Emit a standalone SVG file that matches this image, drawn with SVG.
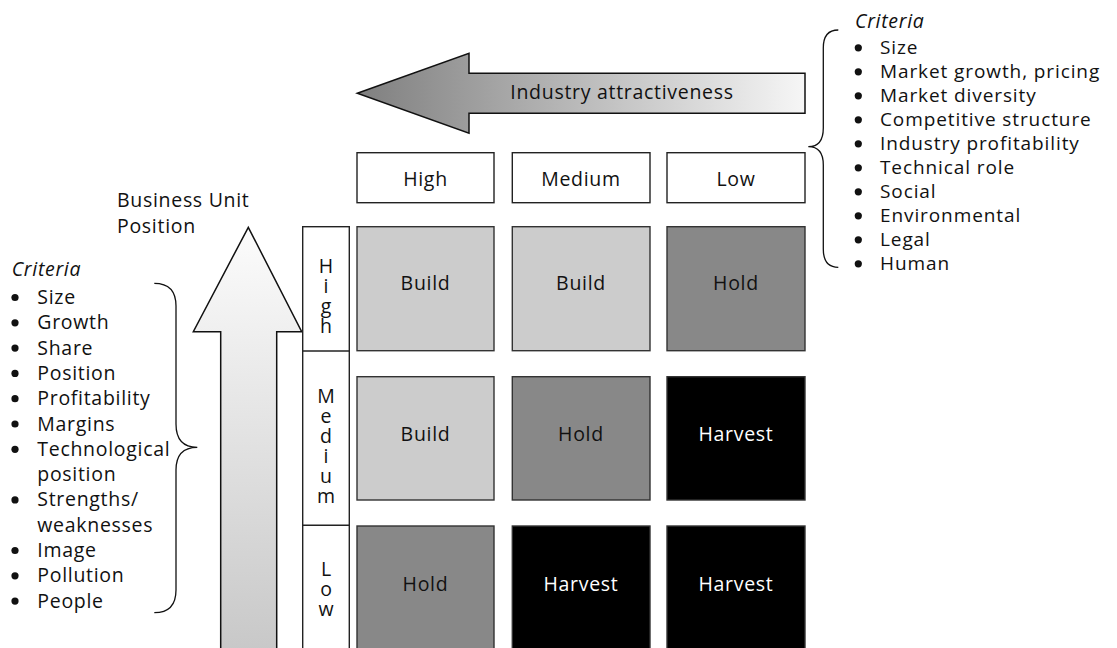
<svg xmlns="http://www.w3.org/2000/svg" width="1117" height="648" viewBox="0 0 1117 648">
  <style>
    text { font-family: "Open Sans", "Noto Sans", "Liberation Sans", sans-serif; font-size: 19.5px; letter-spacing: 0.7px; fill: #111; }
    .c { text-anchor: middle; }
    .it { font-style: italic; }
    .inv { fill: #fff; }
    .list { font-size: 19px; letter-spacing: 0.9px; }
    .vert { writing-mode: vertical-rl; text-orientation: upright; letter-spacing: -7px; text-anchor: middle; }
    .box { fill: #fff; stroke: #222; stroke-width: 1.4; }
    .light { fill: #cccccc; stroke: #333; stroke-width: 1.4; }
    .mid { fill: #888888; stroke: #333; stroke-width: 1.4; }
    .dark { fill: #000; stroke: #333; stroke-width: 1.4; }
    .brace { fill: none; stroke: #111; stroke-width: 1.3; }
    .dot { fill: #111; }
  </style>
  <defs>
    <linearGradient id="gradLeft" x1="0" y1="0" x2="1" y2="0">
      <stop offset="0" stop-color="#7f7f7f"/>
      <stop offset="1" stop-color="#f6f6f6"/>
    </linearGradient>
    <linearGradient id="gradUp" x1="0" y1="0" x2="0" y2="1">
      <stop offset="0" stop-color="#fcfcfc"/>
      <stop offset="1" stop-color="#c8c8c8"/>
    </linearGradient>
  </defs>

  <rect width="1117" height="648" fill="#fff"/>

  <!-- Industry attractiveness axis arrow -->
  <g id="industry-arrow">
    <polygon points="357.3,93.3 469,53.3 469,73.3 805,73.3 805,113.3 469,113.3 469,133.3" fill="url(#gradLeft)" stroke="#111" stroke-width="1.5" stroke-linejoin="miter"/>
    <text class="c" x="622" y="99.3">Industry attractiveness</text>
  </g>

  <!-- Business unit position axis arrow -->
  <g id="position-arrow">
    <polygon points="248.3,227.3 301.7,331.7 276.7,331.7 276.7,652 220.7,652 220.7,331.7 193.3,331.7" fill="url(#gradUp)" stroke="#111" stroke-width="1.5"/>
    <text x="117" y="206.7">Business Unit</text>
    <text x="117" y="232.5">Position</text>
  </g>

  <!-- Column headers -->
  <g id="col-high"><rect class="box" x="357" y="152.7" width="137" height="50"/><text class="c" x="425.5" y="185.5">High</text></g>
  <g id="col-medium"><rect class="box" x="512.3" y="152.7" width="137.7" height="50"/><text class="c" x="581" y="185.5">Medium</text></g>
  <g id="col-low"><rect class="box" x="667" y="152.7" width="138" height="50"/><text class="c" x="736" y="185.5">Low</text></g>

  <!-- Row headers (upright stacked letters) -->
  <g id="row-labels">
    <rect class="box" x="302.7" y="226.7" width="46.6" height="430"/>
    <line x1="302.7" y1="351" x2="349.3" y2="351" stroke="#222" stroke-width="1.4"/>
    <line x1="302.7" y1="525.3" x2="349.3" y2="525.3" stroke="#222" stroke-width="1.4"/>
    <text class="vert" x="326" y="292">High</text>
    <text class="vert" x="326" y="441.5">Medium</text>
    <text class="vert" x="326" y="585">Low</text>
  </g>

  <!-- Strategy grid cells -->
  <g id="cell-high-high"><rect class="light" x="357" y="226.7" width="137" height="124"/><text class="c" x="425.5" y="289.5">Build</text></g>
  <g id="cell-high-medium"><rect class="light" x="512.3" y="226.7" width="137.7" height="124"/><text class="c" x="581" y="289.5">Build</text></g>
  <g id="cell-high-low"><rect class="mid" x="667" y="226.7" width="138" height="124"/><text class="c" x="736" y="289.5">Hold</text></g>

  <g id="cell-medium-high"><rect class="light" x="357" y="376.7" width="137" height="123.3"/><text class="c" x="425.5" y="441">Build</text></g>
  <g id="cell-medium-medium"><rect class="mid" x="512.3" y="376.7" width="137.7" height="123.3"/><text class="c" x="581" y="441">Hold</text></g>
  <g id="cell-medium-low"><rect class="dark" x="667" y="376.7" width="138" height="123.3"/><text class="c inv" x="736" y="441">Harvest</text></g>

  <g id="cell-low-high"><rect class="mid" x="357" y="526" width="137" height="130"/><text class="c" x="425.5" y="590.5">Hold</text></g>
  <g id="cell-low-medium"><rect class="dark" x="512.3" y="526" width="137.7" height="130"/><text class="c inv" x="581" y="590.5">Harvest</text></g>
  <g id="cell-low-low"><rect class="dark" x="667" y="526" width="138" height="130"/><text class="c inv" x="736" y="590.5">Harvest</text></g>

  <!-- Industry attractiveness criteria -->
  <g id="industry-criteria">
    <path class="brace" d="M838.3,30 C828,30 823.3,36 823.3,48 L823.3,128 C823.3,140 818,146.7 808.3,146.7 C818,146.7 823.3,153 823.3,165 L823.3,249 C823.3,261 828,267.3 838.3,267.3"/>
    <text class="it" x="855" y="28.3">Criteria</text>
    <circle class="dot" cx="858.3" cy="47.8" r="3.6"/>
    <circle class="dot" cx="858.3" cy="71.8" r="3.6"/>
    <circle class="dot" cx="858.3" cy="95.8" r="3.6"/>
    <circle class="dot" cx="858.3" cy="119.8" r="3.6"/>
    <circle class="dot" cx="858.3" cy="143.8" r="3.6"/>
    <circle class="dot" cx="858.3" cy="167.8" r="3.6"/>
    <circle class="dot" cx="858.3" cy="191.8" r="3.6"/>
    <circle class="dot" cx="858.3" cy="215.8" r="3.6"/>
    <circle class="dot" cx="858.3" cy="239.8" r="3.6"/>
    <circle class="dot" cx="858.3" cy="263.8" r="3.6"/>
    <text class="list" x="880" y="54">Size</text>
    <text class="list" x="880" y="78">Market growth, pricing</text>
    <text class="list" x="880" y="102">Market diversity</text>
    <text class="list" x="880" y="126">Competitive structure</text>
    <text class="list" x="880" y="150">Industry profitability</text>
    <text class="list" x="880" y="174">Technical role</text>
    <text class="list" x="880" y="198">Social</text>
    <text class="list" x="880" y="222">Environmental</text>
    <text class="list" x="880" y="246">Legal</text>
    <text class="list" x="880" y="270">Human</text>
  </g>

  <!-- Business unit criteria -->
  <g id="position-criteria">
    <path class="brace" d="M154.3,283.3 C169,283.3 176,291 176,306 L176,424 C176,439 183,447.3 197.3,447.3 C183,447.3 176,455 176,470 L176,590 C176,605 169,612.7 154.3,612.7"/>
    <text class="it" x="11.7" y="276">Criteria</text>
    <circle class="dot" cx="15" cy="297.5" r="3.6"/><text x="37.3" y="304">Size</text>
    <circle class="dot" cx="15" cy="322.8" r="3.6"/><text x="37.3" y="329.3">Growth</text>
    <circle class="dot" cx="15" cy="348.1" r="3.6"/><text x="37.3" y="354.6">Share</text>
    <circle class="dot" cx="15" cy="373.4" r="3.6"/><text x="37.3" y="379.9">Position</text>
    <circle class="dot" cx="15" cy="398.7" r="3.6"/><text x="37.3" y="405.2">Profitability</text>
    <circle class="dot" cx="15" cy="424" r="3.6"/><text x="37.3" y="430.5">Margins</text>
    <circle class="dot" cx="15" cy="449.3" r="3.6"/><text x="37.3" y="455.8">Technological</text>
    <text x="37.3" y="481.1">position</text>
    <circle class="dot" cx="15" cy="499.9" r="3.6"/><text x="37.3" y="506.4">Strengths/</text>
    <text x="37.3" y="531.7">weaknesses</text>
    <circle class="dot" cx="15" cy="550.5" r="3.6"/><text x="37.3" y="557">Image</text>
    <circle class="dot" cx="15" cy="575.8" r="3.6"/><text x="37.3" y="582.3">Pollution</text>
    <circle class="dot" cx="15" cy="601.1" r="3.6"/><text x="37.3" y="607.6">People</text>
  </g>
</svg>
